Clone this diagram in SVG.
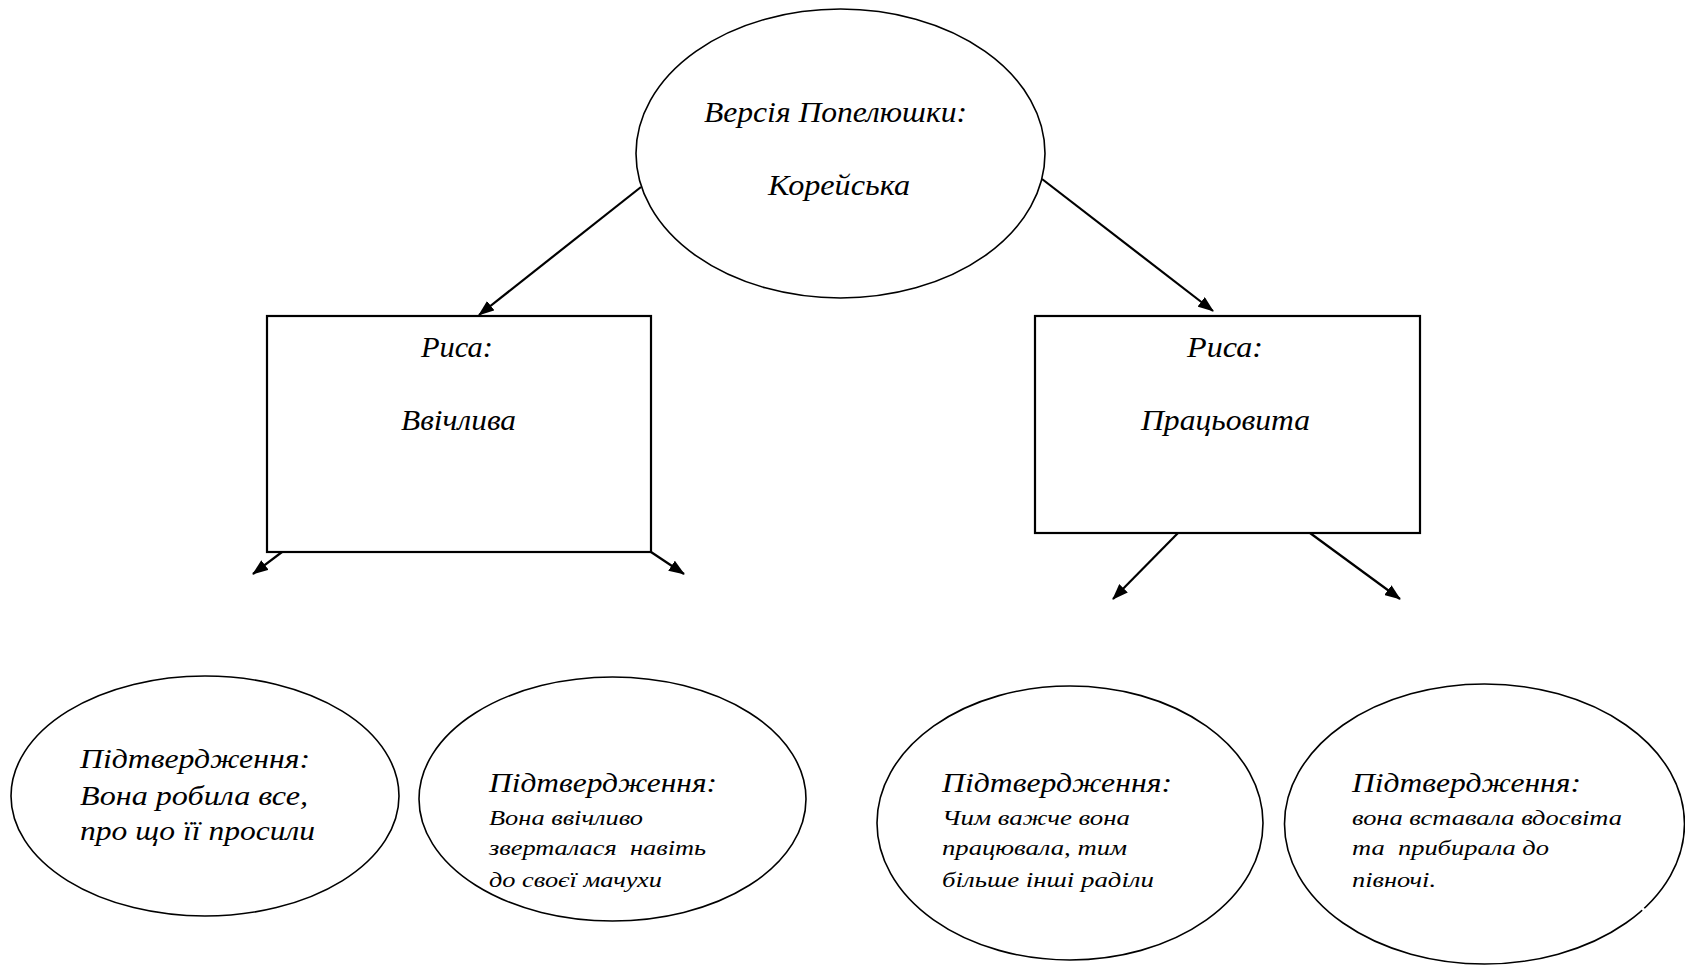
<svg xmlns="http://www.w3.org/2000/svg" width="1685" height="966" viewBox="0 0 1685 966">
  <style>
    .shape { fill: #ffffff; stroke: #000000; }
    .ell { stroke-width: 1.6; }
    .box { stroke-width: 2.2; }
    .t { font-family: "Liberation Serif", "Times New Roman", serif; font-style: italic; fill: #000000; }
    .big { font-size: 30px; }
    .mid { font-size: 28px; }
    .small { font-size: 21px; }
    .conn { stroke: #000000; stroke-width: 2.2; fill: none; marker-end: url(#arrow); }
  </style>
  <defs>
    <marker id="arrow" viewBox="0 0 16 12" refX="15" refY="6" markerWidth="16" markerHeight="12" markerUnits="userSpaceOnUse" orient="auto">
      <path d="M0,0 L16,6 L0,12 Z" fill="#000000"/>
    </marker>
  </defs>
  <rect x="0" y="0" width="1685" height="966" fill="#ffffff"/>

  <g id="connectors">
    <line class="conn" x1="641" y1="187" x2="479" y2="315"/>
    <line class="conn" x1="1042" y1="179" x2="1213" y2="311"/>
    <line class="conn" x1="282" y1="552" x2="253" y2="574"/>
    <line class="conn" x1="651" y1="552" x2="684" y2="574"/>
    <line class="conn" x1="1178" y1="533" x2="1113" y2="599"/>
    <line class="conn" x1="1310" y1="533" x2="1400" y2="599"/>
  </g>

  <g id="node-version">
    <ellipse class="shape ell" cx="840.5" cy="153.5" rx="204.5" ry="144.5"/>
    <text class="t big" x="704" y="122" textLength="263" lengthAdjust="spacingAndGlyphs">Версія Попелюшки:</text>
    <text class="t big" x="768" y="195" textLength="142" lengthAdjust="spacingAndGlyphs">Корейська</text>
  </g>

  <g id="node-trait-polite">
    <rect class="shape box" x="267" y="316" width="384" height="236"/>
    <text class="t big" x="421" y="357" textLength="72" lengthAdjust="spacingAndGlyphs">Риса:</text>
    <text class="t big" x="401" y="430" textLength="115" lengthAdjust="spacingAndGlyphs">Ввічлива</text>
  </g>

  <g id="node-trait-hardworking">
    <rect class="shape box" x="1035" y="316" width="385" height="217"/>
    <text class="t big" x="1187" y="357" textLength="76" lengthAdjust="spacingAndGlyphs">Риса:</text>
    <text class="t big" x="1141" y="430" textLength="169" lengthAdjust="spacingAndGlyphs">Працьовита</text>
  </g>

  <g id="node-proof-1">
    <ellipse class="shape ell" cx="205" cy="796" rx="194" ry="120"/>
    <text class="t mid" x="80" y="768" textLength="230" lengthAdjust="spacingAndGlyphs">Підтвердження:</text>
    <text class="t mid" x="80" y="805" textLength="228" lengthAdjust="spacingAndGlyphs">Вона робила все,</text>
    <text class="t mid" x="80" y="840" textLength="235" lengthAdjust="spacingAndGlyphs">про що її просили</text>
  </g>

  <g id="node-proof-2">
    <ellipse class="shape ell" cx="612.5" cy="799" rx="193.5" ry="122"/>
    <text class="t mid" x="489" y="792" textLength="228" lengthAdjust="spacingAndGlyphs">Підтвердження:</text>
    <text class="t small" x="489" y="825" textLength="154" lengthAdjust="spacingAndGlyphs">Вона ввічливо</text>
    <text class="t small" x="489" y="855" textLength="217" lengthAdjust="spacingAndGlyphs" xml:space="preserve">зверталася  навіть</text>
    <text class="t small" x="489" y="887" textLength="173" lengthAdjust="spacingAndGlyphs">до своєї мачухи</text>
  </g>

  <g id="node-proof-3">
    <ellipse class="shape ell" cx="1070" cy="823" rx="193" ry="137"/>
    <text class="t mid" x="942" y="792" textLength="230" lengthAdjust="spacingAndGlyphs">Підтвердження:</text>
    <text class="t small" x="942" y="825" textLength="188" lengthAdjust="spacingAndGlyphs">Чим важче вона</text>
    <text class="t small" x="942" y="855" textLength="185" lengthAdjust="spacingAndGlyphs">працювала, тим</text>
    <text class="t small" x="942" y="887" textLength="212" lengthAdjust="spacingAndGlyphs">більше інші раділи</text>
  </g>

  <g id="node-proof-4">
    <ellipse class="shape ell" cx="1484.5" cy="824" rx="200" ry="140"/>
    <line x1="1639" y1="905" x2="1647" y2="913" stroke="#ffffff" stroke-width="3"/>
    <text class="t mid" x="1352" y="792" textLength="229" lengthAdjust="spacingAndGlyphs">Підтвердження:</text>
    <text class="t small" x="1352" y="825" textLength="270" lengthAdjust="spacingAndGlyphs">вона вставала вдосвіта</text>
    <text class="t small" x="1352" y="855" textLength="197" lengthAdjust="spacingAndGlyphs" xml:space="preserve">та  прибирала до</text>
    <text class="t small" x="1352" y="887" textLength="84" lengthAdjust="spacingAndGlyphs">півночі.</text>
  </g>
</svg>
